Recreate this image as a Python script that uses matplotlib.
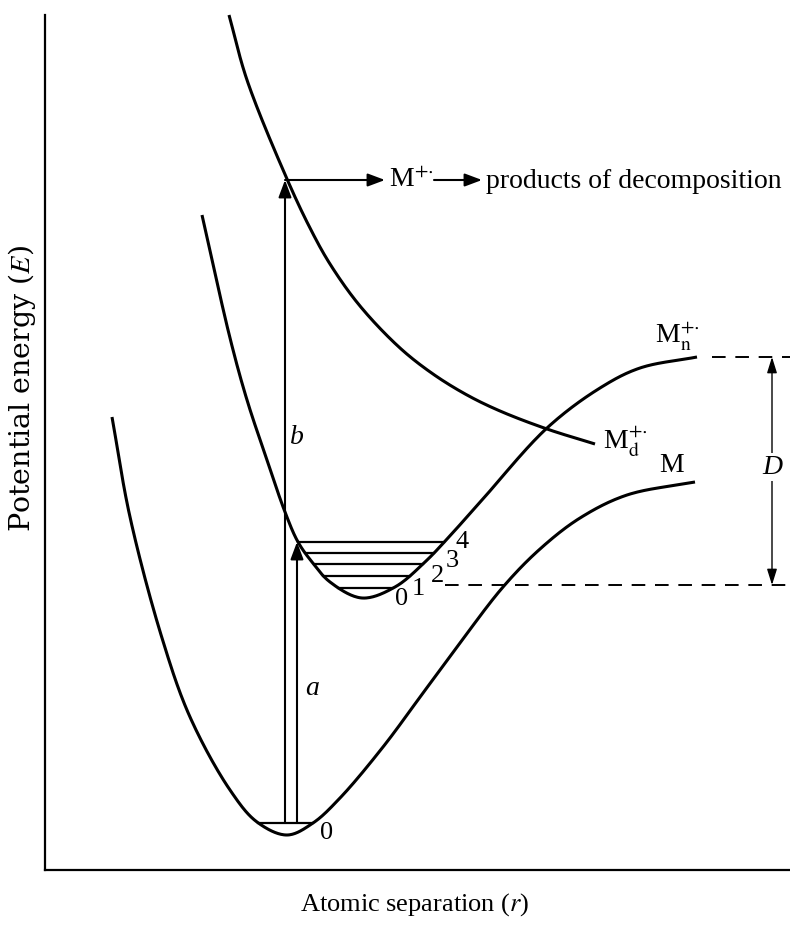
import numpy as np
import matplotlib
matplotlib.use('Agg')
import matplotlib.pyplot as plt

plt.rcParams['font.family'] = ['Liberation Serif', 'DejaVu Serif']
plt.rcParams['mathtext.fontset'] = 'stix'

# Potential energy curves (r = separation, E = energy)
m_r = [112, 130, 162, 190, 230, 257, 287, 313, 340, 383, 423, 457, 503, 540,
       580, 627, 695]
m_e = [453, 353, 232, 153, 80, 48, 35, 47, 72, 123, 177, 223, 283, 321,
       352, 375, 388]

mn_r = [202, 230, 247, 267, 285, 298, 312, 330, 362, 395, 425, 448, 482, 547,
        600, 640, 697]
mn_e = [655, 532, 470, 410, 358, 328, 308, 288, 272, 283, 308, 332, 370, 442,
        482, 502, 513]

md_r = [229, 247, 287, 310, 330, 360, 400, 433, 467, 500, 547, 595]
md_e = [855, 790, 691, 642, 606, 564, 522, 496, 475, 459, 441, 426]

# vibrational levels
m_levels = [47]
mn_levels = [282, 294, 306, 317, 328]
mn_level_labels = ['0', '1', '2', '3', '4']

# transitions
r_b, r_a = 285, 297
e_b_top, e_a_top = 690, 328
e_dissoc, e_min_ion = 513, 285


def smooth(xs, ys, n=30, alpha=0.5):
    # centripetal catmull-rom through the read points
    p = np.column_stack([xs, ys]).astype(float)
    p = np.vstack([2 * p[0] - p[1], p, 2 * p[-1] - p[-2]])
    out = []
    for i in range(1, len(p) - 2):
        P0, P1, P2, P3 = p[i - 1], p[i], p[i + 1], p[i + 2]
        t0 = 0.0
        t1 = t0 + np.linalg.norm(P1 - P0) ** alpha
        t2 = t1 + np.linalg.norm(P2 - P1) ** alpha
        t3 = t2 + np.linalg.norm(P3 - P2) ** alpha
        t = np.linspace(t1, t2, n, endpoint=False)[:, None]
        A1 = (t1 - t) / (t1 - t0) * P0 + (t - t0) / (t1 - t0) * P1
        A2 = (t2 - t) / (t2 - t1) * P1 + (t - t1) / (t2 - t1) * P2
        A3 = (t3 - t) / (t3 - t2) * P2 + (t - t2) / (t3 - t2) * P3
        B1 = (t2 - t) / (t2 - t0) * A1 + (t - t0) / (t2 - t0) * A2
        B2 = (t3 - t) / (t3 - t1) * A2 + (t - t1) / (t3 - t1) * A3
        out.append((t2 - t) / (t2 - t1) * B1 + (t - t1) / (t2 - t1) * B2)
    out.append(p[-2][None])
    c = np.vstack(out)
    return c[:, 0], c[:, 1]


def level_ends(cx, ce, e):
    k = np.argmin(ce)
    left = np.interp(e, ce[:k + 1][::-1], cx[:k + 1][::-1])
    right = np.interp(e, ce[k:], cx[k:])
    return left, right


fig = plt.figure(figsize=(7.9, 9.3), dpi=100)
ax = fig.add_axes([45 / 790, 60 / 930, 745 / 790, 855 / 930])
ax.set_xlim(45, 790)
ax.set_ylim(0, 855)
for s in ['top', 'right']:
    ax.spines[s].set_visible(False)
for s in ['left', 'bottom']:
    ax.spines[s].set_linewidth(1.6)
ax.set_xticks([])
ax.set_yticks([])

lw = 2.2
for r, e in [(m_r, m_e), (mn_r, mn_e), (md_r, md_e)]:
    cx, ce = smooth(r, e)
    ax.plot(cx, ce, color='black', lw=lw, solid_capstyle='butt', clip_on=False)

# levels
cx, ce = smooth(m_r, m_e)
for e in m_levels:
    x0, x1 = level_ends(cx, ce, e)
    ax.plot([x0, x1], [e, e], color='black', lw=1.6)
cx, ce = smooth(mn_r, mn_e)
for i, e in enumerate(mn_levels):
    x0, x1 = level_ends(cx, ce, e)
    ax.plot([x0, x1], [e, e], color='black', lw=1.6)

ax.text(327, 37, '0', fontsize=19, ha='center', va='center')
lab_pos = [(402, 271), (418, 281), (437, 294), (452, 309), (462, 328)]
for (x, y), t in zip(lab_pos, mn_level_labels):
    ax.text(x, y, t, fontsize=19, ha='center', va='center')

arrow = dict(arrowstyle='-|>,head_length=0.8,head_width=0.3', color='black',
             lw=1.5, shrinkA=0, shrinkB=0, mutation_scale=13)
ax.annotate('', xy=(r_b, e_b_top), xytext=(r_b, m_levels[0]), arrowprops=arrow)
ax.annotate('', xy=(r_a, e_a_top), xytext=(r_a, m_levels[0]), arrowprops=arrow)
ax.annotate('', xy=(385, e_b_top), xytext=(r_b, e_b_top), arrowprops=arrow)
ax.annotate('', xy=(482, e_b_top), xytext=(434, e_b_top), arrowprops=arrow)

ax.text(389, e_b_top, r'M$^{+\!\cdot}$', fontsize=20, ha='left', va='center')
ax.text(486, e_b_top - 2, 'products of decomposition', fontsize=20,
        ha='left', va='center')
ax.text(290, 433, 'b', fontsize=20, style='italic', ha='left', va='center')
ax.text(305, 182, 'a', fontsize=20, style='italic', ha='left', va='center')

# dissociation energy
ax.plot([712, 790], [e_dissoc, e_dissoc], color='black', lw=1.4,
        dashes=(7, 5), clip_on=False)
ax.plot([445, 790], [e_min_ion, e_min_ion], color='black', lw=1.4,
        dashes=(7, 5), clip_on=False)
darrow = dict(arrowstyle='<|-|>,head_length=0.8,head_width=0.25', color='black',
              lw=1.0, shrinkA=0, shrinkB=0, mutation_scale=12)
ax.annotate('', xy=(772, e_dissoc), xytext=(772, e_min_ion), arrowprops=darrow)
ax.text(772, 403, 'D', fontsize=20, style='italic', ha='center', va='center',
        bbox=dict(facecolor='white', edgecolor='none', pad=1))

ax.text(655, 533, r'M$_{\mathrm{n}}^{+\!\cdot}$', fontsize=20, ha='left',
        va='center')
ax.text(603, 428, r'M$_{\mathrm{d}}^{+\!\cdot}$', fontsize=20, ha='left',
        va='center')
ax.text(672, 405, 'M', fontsize=20, ha='center', va='center')

fig.text(22 / 790, 1 - 388 / 930, r'Potential energy ($E$)', fontsize=20.5,
         family='DejaVu Serif', rotation=90, ha='center', va='center')
fig.text(415 / 790, 1 - 905 / 930, r'Atomic separation ($r$)', fontsize=19,
         ha='center', va='center')

fig.savefig('out.png', dpi=100)
